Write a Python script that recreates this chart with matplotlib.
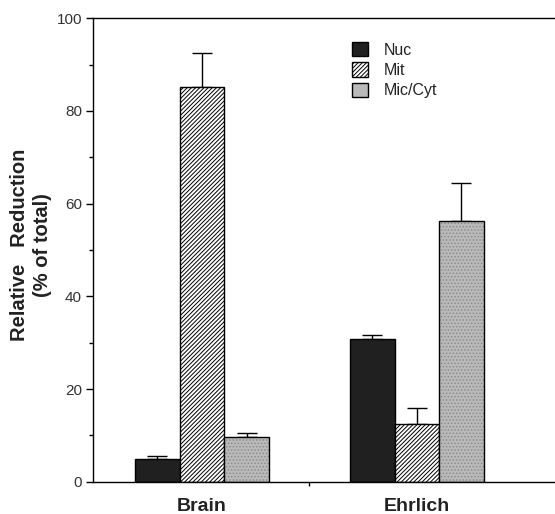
import matplotlib
matplotlib.use("Agg")
import matplotlib.pyplot as plt
from matplotlib.patches import Patch
import numpy as np

# Donnees
groupes = ["Brain", "Ehrlich"]
fractions = ["Nuc", "Mit", "Mic/Cyt"]
nuc = [4.9, 30.8]
mit = [85.1, 12.4]
miccyt = [9.7, 56.2]
err_nuc = [0.6, 0.9]
err_mit = [7.5, 3.4]
err_miccyt = [0.9, 8.2]

plt.rcParams['font.family'] = ['Liberation Sans', 'DejaVu Sans']
plt.rcParams['hatch.linewidth'] = 0.7

fig = plt.figure(figsize=(5.55, 5.14), dpi=100)
ax = fig.add_axes([93/555, 32.3/514, 482/555, 463.4/514])

x = np.arange(len(groupes))
w = 0.207

# Nuc : noir
ax.bar(x - w, nuc, w, color='#202020', edgecolor='black', linewidth=1, zorder=2)
# Mit : hachures
ax.bar(x, mit, w, color='white', edgecolor='black', hatch='////////', linewidth=1, zorder=2)
# Mic/Cyt : gris pointille
ax.bar(x + w, miccyt, w, color='#bababa', edgecolor='#8c8c8c', hatch='.....', linewidth=0, zorder=2)
ax.bar(x + w, miccyt, w, fill=False, edgecolor='black', linewidth=1, zorder=3)

for dx, val, err in [(-w, nuc, err_nuc), (0, mit, err_mit), (w, miccyt, err_miccyt)]:
    ax.errorbar(x + dx, val, yerr=[np.zeros(len(err)), err], fmt='none',
                ecolor='black', elinewidth=1, capsize=7, capthick=1, zorder=1)

ax.set_ylim(0, 100)
ax.set_xlim(-0.507, 1.735)
ax.set_yticks([0, 20, 40, 60, 80, 100])
ax.set_yticks([10, 30, 50, 70, 90], minor=True)
ax.tick_params(axis='y', which='major', length=5, width=1, labelsize=11, pad=3, labelcolor='#333333')
ax.tick_params(axis='y', which='minor', length=3, width=1)
ax.set_xticks([0.5])
ax.set_xticklabels([''])
ax.tick_params(axis='x', length=3, width=1)
ax.spines['right'].set_visible(False)
for s in ['left', 'top', 'bottom']:
    ax.spines[s].set_linewidth(1)

for xi, g in zip(x, groupes):
    ax.text(xi, -3.5, g, ha='center', va='top', fontsize=14, fontweight='bold', color='#222222')

fig.text(31/555, 1 - 245/514, "Relative   Reduction\n(% of total)", rotation=90,
         ha='center', va='center', fontsize=14.5, fontweight='bold', linespacing=1.25,
         color='#222222')

handles = [Patch(facecolor='#202020', edgecolor='black'),
           Patch(facecolor='white', edgecolor='black', hatch='////////'),
           Patch(facecolor='#bababa', edgecolor='black')]
fig.legend(handles, fractions, loc='upper left', bbox_to_anchor=(352/555, 1 - 42/514),
           frameon=False, fontsize=11.5, handlelength=1.0, handleheight=1.0,
           handletextpad=1.0, labelspacing=0.3, borderpad=0, borderaxespad=0,
           labelcolor='#222222')

fig.savefig("out.png", dpi=100)
